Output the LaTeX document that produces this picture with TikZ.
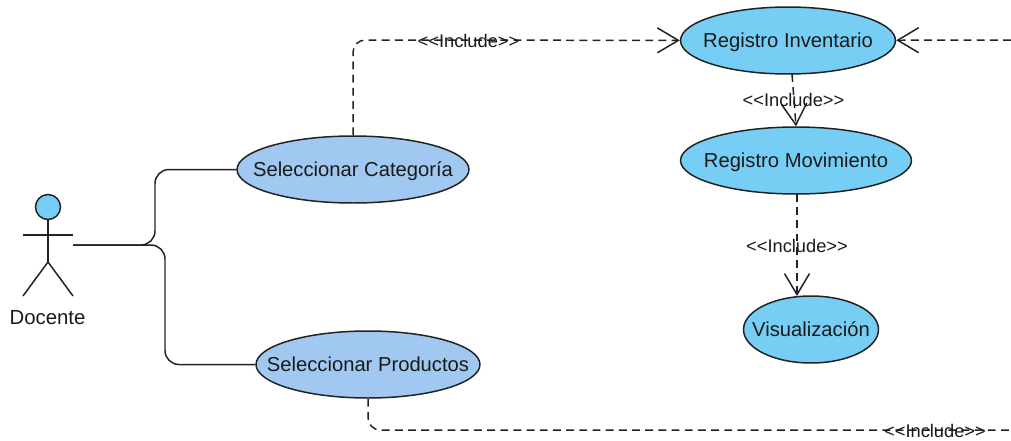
\documentclass[tikz,border=0pt]{standalone}
\usepackage{fontspec}
\usepackage{xcolor}
\usetikzlibrary{shapes.geometric, arrows.meta}
\setmainfont{Liberation Sans}
\definecolor{FontColor}{HTML}{1a1a1a}
\definecolor{SkyUC}{HTML}{77cef5}
\definecolor{PaleUC}{HTML}{a0c8f0}
\definecolor{LineColor}{HTML}{222222}
\newcommand\uclabel[1]{\raisebox{-0.14cm}[0pt][0pt]{\makebox[0pt]{#1}}}
\newcommand\nodesc{\uclabel{Seleccionar Categoría}}
\newcommand\nodesp{\uclabel{Seleccionar Productos}}
\newcommand\noderi{\uclabel{Registro Inventario}}
\newcommand\noderm{\uclabel{Registro Movimiento}}
\newcommand\nodevi{\uclabel{Visualización}}
\newcommand\nodeinc{<{}<Include>{}>}
\tikzstyle{ucstyle} = [ellipse, draw=LineColor, minimum height=1.34cm, inner sep=0pt, text=FontColor, font=\fontsize{11.5}{13}\selectfont]
\tikzstyle{pn} = [ucstyle, fill=PaleUC]
\tikzstyle{sn} = [ucstyle, fill=SkyUC]
\tikzstyle{incl} = [text=FontColor, inner sep=0pt, font=\fontsize{10.4}{12}\selectfont]
\tikzstyle{dep} = [dashed, dash pattern=on 4.5pt off 3pt, draw=LineColor, ->]
\tikzset{>={Straight Barb[length=0.42cm, width=0.5cm]}, every picture/.style={line width=0.85pt}}
\begin{document}
\begin{tikzpicture}[x=0.02cm, y=-0.02cm]
\useasboundingbox (0, 0) rectangle (1011, 440);
\node[pn, minimum width=4.64cm] (sc) at (353, 169.5) {\nodesc};
\node[pn, minimum width=4.48cm] (sp) at (368, 364.5) {\nodesp};
\node[sn, minimum width=4.3cm] (ri) at (788, 40.5) {\noderi};
\node[sn, minimum width=4.62cm] (rm) at (796, 160.5) {\noderm};
\node[sn, minimum width=2.7cm] (vi) at (811, 329.5) {\nodevi};
\node[circle, draw=LineColor, fill=SkyUC, minimum size=0.5cm, inner sep=0pt] (head) at (48, 207) {};
\node[text=FontColor, inner sep=0pt, font=\fontsize{11.6}{13}\selectfont] (doc) at (47.5, 318) {Docente};
\coordinate (neck) at (48, 262);
\coordinate (arml) at (23, 235);
\coordinate (armr) at (73, 235);
\coordinate (legl) at (23, 296);
\coordinate (legr) at (73, 296);
\coordinate (hand) at (73, 245);
\coordinate (upb) at (155, 245);
\coordinate (dnb) at (165, 245);
\coordinate (scb) at (353, 40);
\coordinate (spb) at (368, 430);
\coordinate (edgeb) at (1011, 430);
\coordinate (edget) at (1011, 40);
\coordinate (rit) at (792, 74);
\coordinate (rmt) at (797, 194);
\coordinate (vit) at (797, 296);
\draw [LineColor] (head) -- (neck);
\draw [LineColor] (arml) -- (armr);
\draw [LineColor] (legl) -- (neck) -- (legr);
\draw [LineColor, rounded corners=8pt] (hand) -- (upb) -- (upb |- sc) -- (sc);
\draw [LineColor, rounded corners=8pt] (hand) -- (dnb) -- (dnb |- sp) -- (sp);
\draw [dep, rounded corners=7pt] (sc.north) -- (scb) -- (ri);
\draw [dep, rounded corners=7pt, -] (sp.south) -- (spb) -- (edgeb);
\draw [dep] (edget) -- (ri);
\draw [dep] (rit) -- (rm.north);
\draw [dep] (rmt) -- (vit);
\node[incl] (il1) at (468.5, 41) {\nodeinc};
\node[incl] (il2) at (793.5, 100) {\nodeinc};
\node[incl] (il3) at (797, 246) {\nodeinc};
\node[incl] (il4) at (935, 431) {\nodeinc};
\end{tikzpicture}
\end{document}
